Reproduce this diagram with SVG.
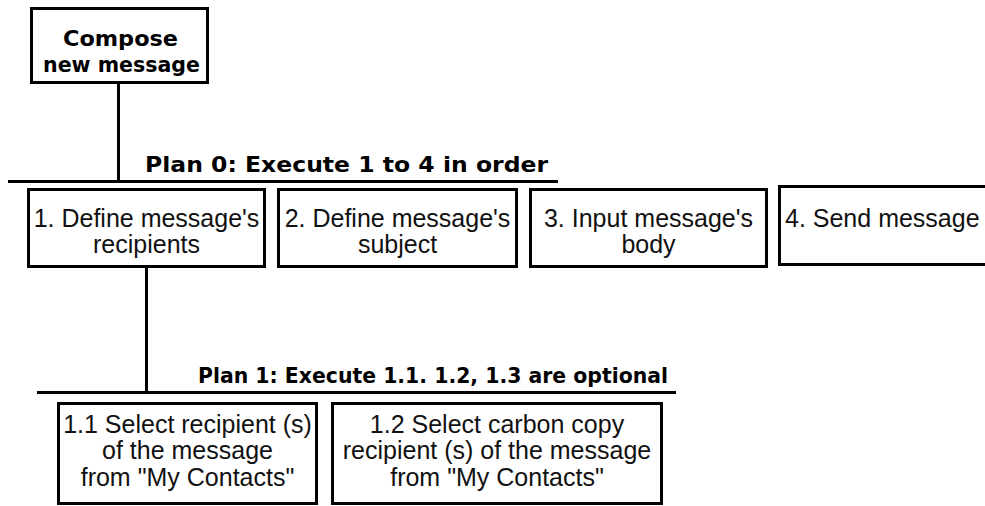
<svg xmlns="http://www.w3.org/2000/svg" width="985" height="506" viewBox="0 0 985 506">
  <style>
    .box { fill: #ffffff; stroke: #000000; stroke-width: 3; }
    .link { fill: none; stroke: #000000; stroke-width: 3; }
    .title { font-family: "DejaVu Sans", "Liberation Sans", sans-serif; font-weight: bold; font-size: 22px; fill: #000000; }
    .label { font-family: "Liberation Sans", Arial, sans-serif; font-size: 25px; fill: #111111; text-anchor: middle; }
  </style>
  <rect x="0" y="0" width="985" height="506" fill="#ffffff"/>

  <!-- connectors and plan bars -->
  <g id="connectors">
    <line class="link" x1="118.5" y1="82" x2="118.5" y2="181"/>
    <line class="link" x1="8" y1="181.5" x2="558" y2="181.5"/>
    <line class="link" x1="146.5" y1="266" x2="146.5" y2="392"/>
    <line class="link" x1="37" y1="392.5" x2="676" y2="392.5"/>
  </g>

  <!-- plan labels -->
  <g id="plan0">
    <text class="title" x="145" y="172" textLength="403" lengthAdjust="spacingAndGlyphs">Plan 0: Execute 1 to 4 in order</text>
  </g>
  <g id="plan1">
    <text class="title" x="198" y="383" textLength="470" lengthAdjust="spacingAndGlyphs">Plan 1: Execute 1.1. 1.2, 1.3 are optional</text>
  </g>

  <!-- root task -->
  <g id="task0">
    <rect class="box" x="31.5" y="8.5" width="176" height="74"/>
    <text class="title" x="63" y="46" textLength="115" lengthAdjust="spacingAndGlyphs">Compose</text>
    <text class="title" x="43" y="72" textLength="157" lengthAdjust="spacingAndGlyphs">new message</text>
  </g>

  <!-- level 1 subtasks -->
  <g id="task1">
    <rect class="box" x="28.5" y="189.5" width="236" height="77"/>
    <text class="label" x="146.5" y="227">1. Define message's</text>
    <text class="label" x="146.5" y="253">recipients</text>
  </g>
  <g id="task2">
    <rect class="box" x="278.5" y="189.5" width="238" height="77"/>
    <text class="label" x="397.5" y="227">2. Define message's</text>
    <text class="label" x="397.5" y="253">subject</text>
  </g>
  <g id="task3">
    <rect class="box" x="530.5" y="189.5" width="236" height="77"/>
    <text class="label" x="648.5" y="227">3. Input message's</text>
    <text class="label" x="648.5" y="253">body</text>
  </g>
  <g id="task4">
    <rect class="box" x="779.5" y="186.5" width="230" height="78"/>
    <text class="label" x="785" y="227" style="text-anchor:start">4. Send message</text>
  </g>

  <!-- level 2 subtasks -->
  <g id="task1-1">
    <rect class="box" x="58.5" y="403.5" width="258" height="100"/>
    <text class="label" x="187.5" y="433">1.1 Select recipient (s)</text>
    <text class="label" x="187.5" y="459">of the message</text>
    <text class="label" x="187.5" y="486">from "My Contacts"</text>
  </g>
  <g id="task1-2">
    <rect class="box" x="332.5" y="403.5" width="329" height="100"/>
    <text class="label" x="497" y="433">1.2 Select carbon copy</text>
    <text class="label" x="497" y="459">recipient (s) of the message</text>
    <text class="label" x="497" y="486">from "My Contacts"</text>
  </g>
</svg>
